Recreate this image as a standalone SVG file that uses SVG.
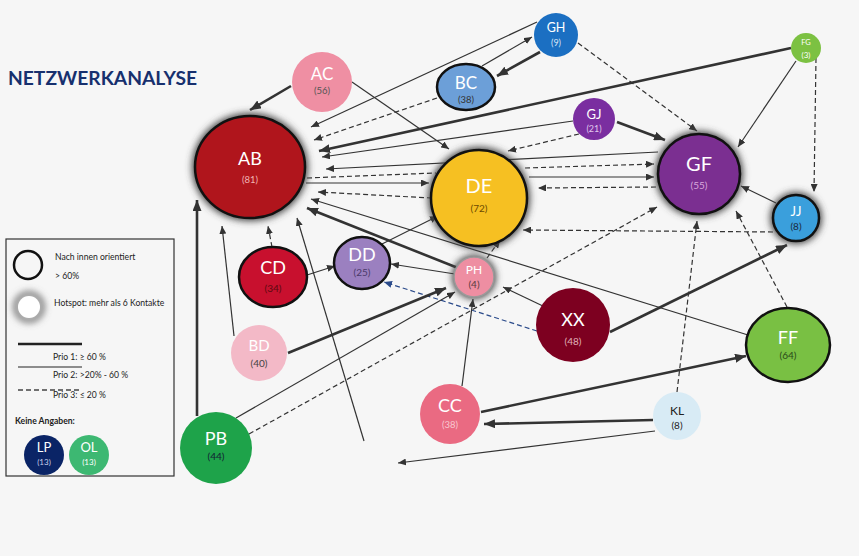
<svg xmlns="http://www.w3.org/2000/svg" width="859" height="556" viewBox="0 0 859 556">
<defs>
<style>
.p1{stroke:#333;stroke-width:2.6;fill:none;marker-end:url(#ab)}
.p2{stroke:#333;stroke-width:1.2;fill:none;marker-end:url(#a)}
.p3{stroke:#333;stroke-width:1.2;fill:none;stroke-dasharray:5 3;marker-end:url(#a)}
.nv{stroke:#2a4a8a;marker-end:url(#an)}
.t{font-family:Lato,"Open Sans","Liberation Sans",sans-serif;text-anchor:middle}
.w{fill:#fff}
.lg{font-family:Lato,"Open Sans","Liberation Sans",sans-serif;font-size:8.6px;fill:#222}
.bk{stroke:#111;stroke-width:2.5}
.glow{fill:#444;filter:url(#blur)}
</style>
<filter id="blur" x="-50%" y="-50%" width="200%" height="200%"><feGaussianBlur stdDeviation="3.5"/></filter>
<marker id="a" markerUnits="userSpaceOnUse" markerWidth="8" markerHeight="7" refX="8" refY="3.5" orient="auto"><path d="M0,0 L8,3.5 L0,7 z" fill="#333"/></marker>
<marker id="ab" markerUnits="userSpaceOnUse" markerWidth="11" markerHeight="9" refX="11" refY="4.5" orient="auto"><path d="M0,0 L11,4.5 L0,9 z" fill="#333"/></marker>
<marker id="an" markerUnits="userSpaceOnUse" markerWidth="8" markerHeight="7" refX="8" refY="3.5" orient="auto"><path d="M0,0 L8,3.5 L0,7 z" fill="#2a4a8a"/></marker>
</defs>
<rect width="859" height="556" fill="#f6f6f6"/>
<text x="8" y="85" font-family="Lato,'Open Sans','Liberation Sans',sans-serif" font-weight="bold" font-size="18" fill="#17306e" textLength="189" lengthAdjust="spacingAndGlyphs">NETZWERKANALYSE</text>

<g id="legend">
<rect x="6" y="239" width="168" height="237" fill="none" stroke="#333" stroke-width="1.2"/>
<circle cx="28" cy="265" r="14" fill="none" stroke="#111" stroke-width="2.5"/>
<text class="lg" x="55" y="260">Nach innen orientiert</text>
<text class="lg" x="55" y="279">&gt; 60%</text>
<circle cx="29" cy="307" r="13" fill="none" stroke="#666" stroke-width="5" filter="url(#blur)"/>
<circle cx="29" cy="307" r="11" fill="#fff"/>
<text class="lg" x="54" y="306">Hotspot: mehr als 6 Kontakte</text>
<line x1="18" y1="344" x2="82" y2="344" stroke="#222" stroke-width="2.5"/>
<text class="lg" x="53" y="360">Prio 1: ≥ 60 %</text>
<line x1="18" y1="367" x2="82" y2="367" stroke="#222" stroke-width="1.2"/>
<text class="lg" x="53" y="378">Prio 2: &gt;20% - 60 %</text>
<line x1="18" y1="390" x2="82" y2="390" stroke="#444" stroke-width="1.4" stroke-dasharray="5 3"/>
<text class="lg" x="53" y="398">Prio 3: ≤ 20 %</text>
<text class="lg" x="15" y="424" font-weight="bold">Keine Angaben:</text>
</g>

<g id="connectors">
<line class="p1" x1="291" y1="86" x2="250" y2="110"/>
<line class="p2" x1="352" y1="82" x2="449" y2="149"/>
<line class="p2" x1="537" y1="22" x2="311" y2="127"/>
<line class="p2" x1="482" y1="66" x2="532" y2="37"/>
<line class="p1" x1="540" y1="52" x2="497" y2="76"/>
<line class="p3" x1="437" y1="98" x2="314" y2="140"/>
<line class="p3" x1="578" y1="43" x2="697" y2="131"/>
<line class="p1" x1="791" y1="48" x2="319" y2="151"/>
<line class="p2" x1="796" y1="61" x2="738" y2="147"/>
<line class="p3" x1="816" y1="58" x2="814" y2="192"/>
<line class="p2" x1="573" y1="121" x2="322" y2="157"/>
<line class="p3" x1="579" y1="134" x2="508" y2="151"/>
<line class="p1" x1="617" y1="122" x2="665" y2="140"/>
<line class="p2" x1="658" y1="152" x2="326" y2="169"/>
<line x1="307" y1="178" x2="436" y2="173" stroke="#333" stroke-width="1.2" stroke-dasharray="5 3"/>
<line class="p2" x1="306" y1="183" x2="429" y2="183"/>
<line class="p3" x1="432" y1="198" x2="318" y2="192"/>
<line class="p2" x1="748" y1="335" x2="311" y2="199"/>
<line class="p1" x1="458" y1="268" x2="307" y2="208"/>
<line class="p1" x1="197" y1="416" x2="197" y2="200"/>
<line class="p2" x1="234" y1="336" x2="222" y2="226"/>
<line class="p3" x1="272" y1="247" x2="268" y2="226"/>
<line class="p2" x1="364" y1="441" x2="297" y2="218"/>
<line class="p2" x1="655" y1="431" x2="398" y2="463"/>
<line class="p2" x1="307" y1="275" x2="335" y2="266"/>
<line class="p2" x1="382" y1="244" x2="438" y2="216"/>
<line class="p2" x1="455" y1="274" x2="391" y2="264"/>
<line class="p3 nv" x1="537" y1="331" x2="384" y2="282"/>
<line class="p3" x1="487" y1="258" x2="500" y2="240"/>
<line class="p3" x1="773" y1="232" x2="523" y2="230"/>
<line class="p3" x1="656" y1="187" x2="538" y2="188"/>
<line class="p3" x1="525" y1="168" x2="654" y2="164"/>
<line class="p2" x1="529" y1="177" x2="654" y2="177"/>
<line class="p3" x1="249" y1="434" x2="657" y2="207"/>
<line class="p2" x1="236" y1="418" x2="455" y2="292"/>
<line class="p1" x1="288" y1="353" x2="446" y2="288"/>
<line class="p2" x1="462" y1="386" x2="473" y2="299"/>
<line class="p2" x1="545" y1="307" x2="503" y2="287"/>
<line class="p1" x1="610" y1="332" x2="787" y2="245"/>
<line class="p2" x1="776" y1="203" x2="741" y2="186"/>
<line class="p3" x1="787" y1="307" x2="736" y2="211"/>
<line class="p3" x1="677" y1="392" x2="697" y2="221"/>
<line class="p1" x1="481" y1="412" x2="746" y2="356"/>
<line class="p1" x1="653" y1="420" x2="484" y2="424"/>
</g>

<g id="AC"><circle cx="322" cy="82" r="30" fill="#ef8fa3"/><text class="t w" x="322" y="80" font-size="17">AC</text><text class="t" x="322" y="94" font-size="9.5" fill="#555">(56)</text></g>
<g id="AB"><ellipse class="glow" cx="250" cy="167" rx="58" ry="54"/><ellipse class="bk" cx="250" cy="167" rx="55" ry="51" fill="#b0151c"/><text class="t w" x="250" y="165" font-size="18">AB</text><text class="t" x="250" y="183" font-size="9.5" fill="#f0b5b5">(81)</text></g>
<g id="GH"><circle cx="556" cy="35" r="22" fill="#1b6fc2"/><text class="t w" x="556" y="32" font-size="12.5">GH</text><text class="t" x="556" y="46" font-size="9" fill="#d8e6f5">(9)</text></g>
<g id="BC"><ellipse class="bk" cx="466" cy="87" rx="29" ry="23" fill="#6c9fd8"/><text class="t w" x="466" y="89" font-size="17">BC</text><text class="t" x="466" y="103" font-size="9.5" fill="#333">(38)</text></g>
<g id="GJ"><circle cx="594" cy="119" r="21" fill="#7a2ea0"/><text class="t w" x="594" y="119" font-size="13">GJ</text><text class="t" x="594" y="132" font-size="9" fill="#e0c8ee">(21)</text></g>
<g id="FG"><circle cx="806" cy="48" r="15" fill="#7cc142"/><text class="t w" x="806" y="45" font-size="7.5">FG</text><text class="t w" x="806" y="58" font-size="8">(3)</text></g>
<g id="GF"><ellipse class="glow" cx="699" cy="174" rx="44" ry="43"/><ellipse class="bk" cx="699" cy="174" rx="41" ry="40" fill="#7b2f91"/><text class="t w" x="699" y="171" font-size="20">GF</text><text class="t" x="699" y="189" font-size="10" fill="#d9a8dc">(55)</text></g>
<g id="DE"><circle class="glow" cx="479" cy="198" r="51"/><circle class="bk" cx="479" cy="198" r="48" fill="#f6c022"/><text class="t w" x="479" y="193" font-size="20">DE</text><text class="t" x="479" y="212" font-size="10" fill="#6b4a00">(72)</text></g>
<g id="JJ"><circle class="glow" cx="796" cy="218" r="26"/><circle class="bk" cx="796" cy="218" r="23" fill="#3a9fdc"/><text class="t w" x="796" y="216" font-size="13">JJ</text><text class="t" x="796" y="230" font-size="10" fill="#1a2a3a">(8)</text></g>
<g id="CD"><ellipse class="bk" cx="273" cy="277" rx="34" ry="30" fill="#c8102e"/><text class="t w" x="273" y="274" font-size="18">CD</text><text class="t" x="273" y="292" font-size="10" fill="#5a0a10">(34)</text></g>
<g id="DD"><ellipse class="bk" cx="362" cy="263" rx="28" ry="26" fill="#9b80c0"/><text class="t w" x="362" y="261" font-size="18">DD</text><text class="t" x="362" y="276" font-size="10" fill="#4a3a6a">(25)</text></g>
<g id="PH"><circle class="glow" cx="474" cy="277" r="22"/><circle cx="474" cy="277" r="20" fill="#ee8ea2" stroke="#999" stroke-width="1.5"/><text class="t w" x="474" y="274" font-size="12">PH</text><text class="t" x="474" y="288" font-size="10" fill="#5a3a40">(4)</text></g>
<g id="XX"><circle cx="573" cy="325" r="37" fill="#7d0020"/><text class="t w" x="573" y="326" font-size="18">XX</text><text class="t" x="573" y="345" font-size="10" fill="#e0b0b8">(48)</text></g>
<g id="BD"><circle cx="259" cy="353" r="28" fill="#f3b9c7"/><text class="t w" x="259" y="351" font-size="15">BD</text><text class="t" x="259" y="367" font-size="10" fill="#444">(40)</text></g>
<g id="FF"><ellipse class="bk" cx="788" cy="345" rx="42" ry="37" fill="#79c043"/><text class="t w" x="788" y="344" font-size="18">FF</text><text class="t" x="788" y="359" font-size="10" fill="#2a4a1a">(64)</text></g>
<g id="CC"><circle cx="450" cy="414" r="30" fill="#ea6a82"/><text class="t w" x="450" y="412" font-size="18">CC</text><text class="t" x="450" y="428" font-size="9.5" fill="#f8c8d0">(38)</text></g>
<g id="KL"><circle cx="677" cy="416" r="24" fill="#d8ebf5"/><text class="t" x="677" y="415" font-size="12" fill="#222">KL</text><text class="t" x="677" y="429" font-size="10" fill="#222">(8)</text></g>
<g id="PB"><circle cx="216" cy="448" r="36" fill="#1ea34a"/><text class="t w" x="216" y="445" font-size="18">PB</text><text class="t" x="216" y="460" font-size="10" fill="#123">(44)</text></g>
<g id="LP"><circle cx="44" cy="455" r="20" fill="#0a2466"/><text class="t w" x="44" y="452" font-size="13">LP</text><text class="t" x="44" y="465" font-size="8" fill="#c8d0e8">(13)</text></g>
<g id="OL"><circle cx="89" cy="455" r="20" fill="#3db872"/><text class="t w" x="89" y="452" font-size="13">OL</text><text class="t w" x="89" y="465" font-size="8">(13)</text></g>
</svg>
